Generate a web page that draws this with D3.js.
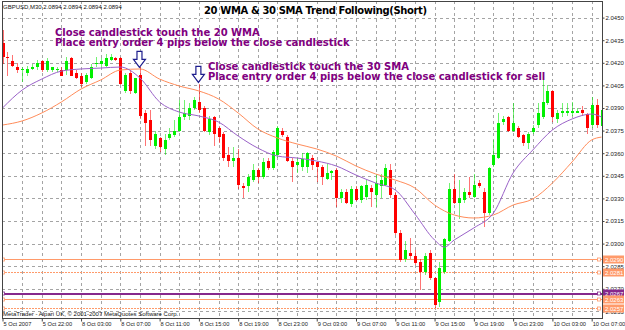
<!DOCTYPE html>
<html>
<head>
<meta charset="utf-8">
<script src="https://cdn.jsdelivr.net/npm/d3@7"></script>
<style>
    body { margin: 0; background: #fff; }
    text { font-family: Arial, "Liberation Sans", sans-serif; }
</style>
</head>
<body>
<div id="chart"></div>
<script>

// GBPUSD M30 candles (bar 0 = left edge)
var opens = [
    2.0433, 2.0424, 2.0421, 2.0417, 2.0415, 2.0413, 2.0416, 2.0417, 2.0421, 2.0415,
    2.0415, 2.0415, 2.0415, 2.0415, 2.0423, 2.0413, 2.0411, 2.0407, 2.0410, 2.0419,
    2.0419, 2.0418, 2.0422, 2.0423, 2.0423, 2.0401, 2.0413, 2.0400, 2.0412, 2.0387,
    2.0382, 2.0365, 2.0370, 2.0363, 2.0370, 2.0372, 2.0375, 2.0384, 2.0385, 2.0390,
    2.0394, 2.0390, 2.0374, 2.0384, 2.0377, 2.0373, 2.0359, 2.0355, 2.0357, 2.0338,
    2.0338, 2.0342, 2.0349, 2.0344, 2.0355, 2.0350, 2.0359, 2.0375, 2.0371, 2.0355,
    2.0352, 2.0351, 2.0351, 2.0357, 2.0354, 2.0351, 2.0343, 2.0347, 2.0349, 2.0330,
    2.0334, 2.0326, 2.0336, 2.0329, 2.0331, 2.0337, 2.0332, 2.0338, 2.0339, 2.0349,
    2.0332, 2.0307, 2.0290, 2.0294, 2.0292, 2.0288, 2.0281, 2.0294, 2.0277, 2.0261,
    2.0281, 2.0302, 2.0336, 2.0327, 2.0329, 2.0334, 2.0331, 2.0340, 2.0334, 2.0320,
    2.0352, 2.0357, 2.0381, 2.0384, 2.0375, 2.0377, 2.0372, 2.0367, 2.0374, 2.0379,
    2.0384, 2.0393, 2.0401, 2.0383, 2.0387, 2.0387, 2.0387, 2.0387, 2.0389, 2.0386,
    2.0379, 2.0392, 2.0378
];
var highs = [
    2.0442, 2.0427, 2.0425, 2.0420, 2.0417, 2.0418, 2.0419, 2.0422, 2.0422, 2.0423,
    2.0417, 2.0417, 2.0417, 2.0424, 2.0424, 2.0415, 2.0413, 2.0413, 2.0419, 2.0424,
    2.0423, 2.0426, 2.0426, 2.0424, 2.0424, 2.0413, 2.0415, 2.0410, 2.0417, 2.0389,
    2.0389, 2.0375, 2.0371, 2.0373, 2.0377, 2.0382, 2.0395, 2.0395, 2.0393, 2.0397,
    2.0406, 2.0391, 2.0385, 2.0385, 2.0378, 2.0374, 2.0364, 2.0364, 2.0363, 2.0340,
    2.0346, 2.0353, 2.0350, 2.0357, 2.0357, 2.0362, 2.0378, 2.0377, 2.0372, 2.0357,
    2.0357, 2.0360, 2.0361, 2.0359, 2.0355, 2.0352, 2.0353, 2.0349, 2.0350, 2.0336,
    2.0336, 2.0338, 2.0338, 2.0339, 2.0342, 2.0339, 2.0346, 2.0346, 2.0353, 2.0353,
    2.0334, 2.0309, 2.0302, 2.0304, 2.0296, 2.0290, 2.0294, 2.0296, 2.0278, 2.0288,
    2.0304, 2.0340, 2.0346, 2.0342, 2.0337, 2.0344, 2.0346, 2.0342, 2.0337, 2.0351,
    2.0369, 2.0387, 2.0385, 2.0385, 2.0393, 2.0378, 2.0373, 2.0374, 2.0379, 2.0393,
    2.0411, 2.0405, 2.0402, 2.0389, 2.0393, 2.0393, 2.0394, 2.0390, 2.0391, 2.0387,
    2.0397, 2.0396, 2.0397
];
var lows = [
    2.0419, 2.0411, 2.0417, 2.0413, 2.0407, 2.0411, 2.0415, 2.0415, 2.0414, 2.0414,
    2.0414, 2.0414, 2.0411, 2.0412, 2.0411, 2.0409, 2.0404, 2.0406, 2.0409, 2.0417,
    2.0417, 2.0417, 2.0421, 2.0421, 2.0405, 2.0400, 2.0399, 2.0399, 2.0383, 2.0365,
    2.0365, 2.0363, 2.0361, 2.0359, 2.0369, 2.0371, 2.0374, 2.0382, 2.0382, 2.0389,
    2.0387, 2.0374, 2.0372, 2.0365, 2.0367, 2.0355, 2.0351, 2.0351, 2.0336, 2.0330,
    2.0334, 2.0341, 2.0340, 2.0343, 2.0349, 2.0349, 2.0357, 2.0371, 2.0354, 2.0341,
    2.0347, 2.0348, 2.0347, 2.0349, 2.0341, 2.0339, 2.0342, 2.0342, 2.0324, 2.0327,
    2.0326, 2.0324, 2.0328, 2.0327, 2.0329, 2.0324, 2.0324, 2.0330, 2.0338, 2.0330,
    2.0306, 2.0288, 2.0288, 2.0290, 2.0286, 2.0269, 2.0279, 2.0276, 2.0257, 2.0258,
    2.0280, 2.0301, 2.0326, 2.0316, 2.0327, 2.0330, 2.0330, 2.0337, 2.0311, 2.0319,
    2.0351, 2.0356, 2.0379, 2.0374, 2.0374, 2.0370, 2.0365, 2.0363, 2.0373, 2.0377,
    2.0383, 2.0392, 2.0381, 2.0380, 2.0384, 2.0385, 2.0385, 2.0387, 2.0385, 2.0373,
    2.0377, 2.0377, 2.0377
];
var closes = [
    2.0424, 2.0423, 2.0418, 2.0415, 2.0416, 2.0416, 2.0417, 2.0420, 2.0415, 2.0421,
    2.0417, 2.0416, 2.0411, 2.0421, 2.0411, 2.0410, 2.0406, 2.0412, 2.0417, 2.0420,
    2.0421, 2.0423, 2.0424, 2.0422, 2.0406, 2.0412, 2.0401, 2.0410, 2.0385, 2.0380,
    2.0369, 2.0373, 2.0364, 2.0369, 2.0373, 2.0375, 2.0384, 2.0387, 2.0390, 2.0395,
    2.0389, 2.0375, 2.0383, 2.0373, 2.0371, 2.0357, 2.0355, 2.0357, 2.0339, 2.0337,
    2.0344, 2.0349, 2.0344, 2.0354, 2.0350, 2.0361, 2.0377, 2.0372, 2.0355, 2.0351,
    2.0354, 2.0356, 2.0360, 2.0352, 2.0351, 2.0344, 2.0347, 2.0348, 2.0330, 2.0334,
    2.0327, 2.0336, 2.0329, 2.0338, 2.0339, 2.0334, 2.0340, 2.0342, 2.0350, 2.0332,
    2.0307, 2.0289, 2.0296, 2.0292, 2.0287, 2.0281, 2.0292, 2.0277, 2.0259, 2.0284,
    2.0303, 2.0336, 2.0327, 2.0330, 2.0334, 2.0332, 2.0339, 2.0338, 2.0320, 2.0350,
    2.0359, 2.0380, 2.0383, 2.0375, 2.0380, 2.0371, 2.0367, 2.0373, 2.0377, 2.0387,
    2.0394, 2.0401, 2.0384, 2.0387, 2.0388, 2.0388, 2.0388, 2.0388, 2.0387, 2.0377,
    2.0392, 2.0379, 2.0389
];

// 20 WMA and 30 SMA, read at a few bars
var wmaBars = [0, 4, 8, 12, 16, 20, 24, 28, 32, 36, 40, 44, 48, 52, 56, 60, 64, 68, 72, 76, 80, 84, 88,
    90, 92, 96, 100, 104, 108, 112, 116, 120, 122];
var wmaValues = [2.03900, 2.04019, 2.04092, 2.04145, 2.04159, 2.04165, 2.04172, 2.04099, 2.03940,
    2.03873, 2.03847, 2.03807, 2.03714, 2.03634, 2.03581, 2.03568, 2.03548, 2.03515, 2.03455,
    2.03402, 2.03356, 2.03196, 2.03024, 2.02977, 2.03024, 2.03104, 2.03203, 2.03469, 2.03621,
    2.03754, 2.03827, 2.03860, 2.03840];
var smaBars = [0, 4, 8, 12, 16, 20, 24, 28, 32, 36, 40, 44, 48, 52, 56, 60, 64, 68, 72, 76, 80, 84, 88,
    92, 96, 100, 104, 108, 112, 116, 120, 122];
var smaValues = [2.03787, 2.03814, 2.03867, 2.03940, 2.04026, 2.04086, 2.04152, 2.04159, 2.04092,
    2.04046, 2.04013, 2.03960, 2.03867, 2.03761, 2.03701, 2.03661, 2.03628, 2.03581, 2.03515,
    2.03462, 2.03422, 2.03369, 2.03256, 2.03190, 2.03170, 2.03190, 2.03256, 2.03296, 2.03402,
    2.03542, 2.03688, 2.03707];

// horizontal price levels
var levelPrices = [2.0290, 2.0281, 2.0267, 2.0263, 2.0257];

// axis ticks
var priceTicks = [2.0450, 2.0435, 2.0420, 2.0405, 2.0390, 2.0375, 2.0360, 2.0345, 2.0330,
    2.0315, 2.0300, 2.0285, 2.0270, 2.0255];
var timeLabels = ["5 Oct 2007", "5 Oct 22:00", "8 Oct 03:00", "8 Oct 07:00", "8 Oct 11:00",
    "8 Oct 15:00", "8 Oct 19:00", "8 Oct 23:00", "9 Oct 03:00", "9 Oct 07:00", "9 Oct 11:00",
    "9 Oct 15:00", "9 Oct 19:00", "9 Oct 23:00", "10 Oct 03:00", "10 Oct 07:00"];
var timeLabelBars = [0, 8, 16, 24, 32, 40, 48, 56, 64, 72, 80, 88, 96, 104, 112, 120];

// arrows: bar and price of arrow tip
var arrowBars = [28, 40];
var arrowPrices = [2.0417, 2.0407];

var width = 625, height = 330;
var plot = {left: 2, right: 602, top: 1, bottom: 318};

var x = d3.scaleLinear().domain([0, 122]).range([2.5, 601.5]);
var y = d3.scaleLinear().domain([2.0255, 2.0450]).range([311.4, 17.6]);

var svg = d3.select("#chart").append("svg")
    .attr("width", width)
    .attr("height", height);

svg.append("rect")
    .attr("width", width)
    .attr("height", height)
    .attr("fill", "#fff");

svg.append("clipPath")
    .attr("id", "plot-clip")
    .append("rect")
    .attr("x", plot.left)
    .attr("y", plot.top)
    .attr("width", plot.right - plot.left)
    .attr("height", plot.bottom - plot.top);

// grid
var grid = svg.append("g")
    .attr("stroke", "#a4a4a4")
    .attr("stroke-width", 1)
    .attr("stroke-dasharray", "3,3")
    .attr("shape-rendering", "crispEdges");

grid.selectAll(".hgrid")
    .data(priceTicks)
    .enter()
    .append("line")
    .attr("x1", plot.left)
    .attr("x2", plot.right)
    .attr("y1", function(d) { return Math.round(y(d)) + 0.5; })
    .attr("y2", function(d) { return Math.round(y(d)) + 0.5; });

grid.selectAll(".vgrid")
    .data(d3.range(4, 121, 4))
    .enter()
    .append("line")
    .attr("x1", function(d) { return Math.round(x(d)) + 0.5; })
    .attr("x2", function(d) { return Math.round(x(d)) + 0.5; })
    .attr("y1", plot.top)
    .attr("y2", plot.bottom);

var plotG = svg.append("g").attr("clip-path", "url(#plot-clip)");

// price levels
var levelStyle = [
    {color: "#ff9a6a", dash: null, w: 1},
    {color: "#ff9a6a", dash: "2,1", w: 1},
    {color: "#86288c", dash: null, w: 2},
    {color: "#ff9a6a", dash: null, w: 1},
    {color: "#ff9a6a", dash: "2,1", w: 1}
];

plotG.selectAll(".level")
    .data(levelPrices)
    .enter()
    .append("line")
    .attr("class", "level")
    .attr("x1", plot.left)
    .attr("x2", plot.right)
    .attr("y1", function(d) { return Math.round(y(d)) + 0.5; })
    .attr("y2", function(d) { return Math.round(y(d)) + 0.5; })
    .attr("stroke", function(d, i) { return levelStyle[i].color; })
    .attr("stroke-width", function(d, i) { return levelStyle[i].w; })
    .attr("stroke-dasharray", function(d, i) { return levelStyle[i].dash; })
    .attr("shape-rendering", "crispEdges");

// little end markers on the levels
[3, 599].forEach(function(mx) {
    plotG.selectAll(".marker" + mx)
        .data(levelPrices)
        .enter()
        .append("rect")
        .attr("x", mx - 1.5)
        .attr("y", function(d) { return Math.round(y(d)) - 1; })
        .attr("width", 3)
        .attr("height", 3)
        .attr("fill", "#fff")
        .attr("stroke", function(d, i) { return levelStyle[i].color; })
        .attr("stroke-width", 0.8);
});

// candles
var bars = opens.map(function(o, i) {
    return {i: i, o: o, h: highs[i], l: lows[i], c: closes[i]};
});

var candle = plotG.selectAll(".candle")
    .data(bars)
    .enter()
    .append("g")
    .attr("class", "candle")
    .attr("shape-rendering", "crispEdges");

candle.append("line")
    .attr("x1", function(d) { return Math.round(x(d.i)) + 0.5; })
    .attr("x2", function(d) { return Math.round(x(d.i)) + 0.5; })
    .attr("y1", function(d) { return y(d.h); })
    .attr("y2", function(d) { return y(d.l); })
    .attr("stroke", function(d) { return d.c >= d.o ? "#00e800" : "#ff0000"; })
    .attr("stroke-opacity", 0.55);

candle.append("rect")
    .attr("x", function(d) { return Math.round(x(d.i)) - 1; })
    .attr("width", 3)
    .attr("y", function(d) { return y(Math.max(d.o, d.c)); })
    .attr("height", function(d) { return Math.max(1, Math.abs(y(d.o) - y(d.c))); })
    .attr("fill", function(d) { return d.c >= d.o ? "#00f000" : "#ff0000"; });

// moving averages
var maLine = d3.line()
    .x(function(d) { return x(d[0]); })
    .y(function(d) { return y(d[1]); })
    .curve(d3.curveMonotoneX);

plotG.append("path")
    .datum(d3.zip(smaBars, smaValues))
    .attr("d", maLine)
    .attr("fill", "none")
    .attr("stroke", "#ff8c5a")
    .attr("stroke-width", 1);

plotG.append("path")
    .datum(d3.zip(wmaBars, wmaValues))
    .attr("d", maLine)
    .attr("fill", "none")
    .attr("stroke", "#9a62c8")
    .attr("stroke-width", 1);

// hollow down arrows
function arrowPath(cx, tip) {
    return "M" + cx + "," + tip +
        "L" + (cx - 6) + "," + (tip - 8) +
        "L" + (cx - 2.5) + "," + (tip - 8) +
        "L" + (cx - 2.5) + "," + (tip - 16) +
        "L" + (cx + 2.5) + "," + (tip - 16) +
        "L" + (cx + 2.5) + "," + (tip - 8) +
        "L" + (cx + 6) + "," + (tip - 8) + "Z";
}

svg.selectAll(".arrow")
    .data(arrowBars)
    .enter()
    .append("path")
    .attr("class", "arrow")
    .attr("d", function(d, i) { return arrowPath(x(d) - 0.5, y(arrowPrices[i])); })
    .attr("fill", "#fff")
    .attr("stroke", "#1c1c8c")
    .attr("stroke-width", 1.2)
    .attr("stroke-linejoin", "miter");

// frame
svg.append("rect")
    .attr("x", plot.left + 0.5)
    .attr("y", plot.top + 0.5)
    .attr("width", plot.right - plot.left)
    .attr("height", plot.bottom - plot.top)
    .attr("fill", "none")
    .attr("stroke", "#444")
    .attr("shape-rendering", "crispEdges");

// price axis
var yAxis = svg.append("g")
    .attr("transform", "translate(" + (plot.right + 0.5) + ",0)")
    .call(d3.axisRight(y)
        .tickValues(priceTicks)
        .tickFormat(d3.format(".4f"))
        .tickSize(2)
        .tickPadding(1));
yAxis.select(".domain").remove();
yAxis.selectAll("line").attr("stroke", "#444");
yAxis.selectAll("text")
    .attr("fill", "#222")
    .style("font-size", "6px");

// time axis
var xAxis = svg.append("g")
    .attr("transform", "translate(0," + (plot.bottom + 0.5) + ")")
    .call(d3.axisBottom(x)
        .tickValues(timeLabelBars)
        .tickFormat(function(d, i) { return timeLabels[i]; })
        .tickSize(3));
xAxis.select(".domain").remove();
xAxis.selectAll("line").attr("stroke", "#444");
xAxis.selectAll("text")
    .attr("x", 0.5)
    .attr("y", 3)
    .attr("dy", "0.8em")
    .attr("fill", "#222")
    .style("text-anchor", "start")
    .style("font-size", "5.7px");

// level value boxes on the price axis
var boxes = svg.selectAll(".levelbox")
    .data(levelPrices)
    .enter()
    .append("g")
    .attr("class", "levelbox")
    .attr("transform", function(d) { return "translate(603," + (Math.round(y(d)) + 0.5) + ")"; });

boxes.append("rect")
    .attr("x", 0)
    .attr("y", -4)
    .attr("width", 21)
    .attr("height", 8)
    .attr("fill", function(d, i) { return levelStyle[i].color; });

boxes.append("text")
    .attr("x", 2)
    .attr("y", 2.2)
    .attr("fill", "#fff")
    .style("font-size", "6px")
    .text(function(d) { return d.toFixed(4); });

// header and footer
svg.append("text")
    .attr("x", 3)
    .attr("y", 8.5)
    .style("font-size", "6px")
    .attr("fill", "#111")
    .text("GBPUSD,M30 2.0894 2.0894 2.0894 2.0894");

svg.append("text")
    .attr("x", 3)
    .attr("y", 316)
    .style("font-size", "6px")
    .attr("fill", "#111")
    .text("MetaTrader - Alpari UK, \u00a9 2001-2007 MetaQuotes Software Corp.");

// title
svg.append("text")
    .attr("x", 204)
    .attr("y", 13.5)
    .attr("textLength", 223)
    .attr("lengthAdjust", "spacing")
    .style("font-family", "'DejaVu Sans', Verdana, sans-serif")
    .style("font-size", "10px")
    .style("font-weight", "bold")
    .attr("fill", "#000")
    .text("20 WMA & 30 SMA Trend Following(Short)");

// annotations
var notes = [
    {x: 55, y: 36, t: "Close candlestick touch the 20 WMA"},
    {x: 55, y: 45.5, t: "Place entry order 4 pips below the close candlestick"},
    {x: 208, y: 69.5, t: "Close candlestick touch the 30 SMA"},
    {x: 208, y: 79.5, t: "Place entry order 4 pips below the close candlestick for sell"}
];

svg.selectAll(".note")
    .data(notes)
    .enter()
    .append("text")
    .attr("class", "note")
    .attr("x", function(d) { return d.x; })
    .attr("y", function(d) { return d.y; })
    .style("font-family", "'DejaVu Sans', Verdana, sans-serif")
    .style("font-size", "10px")
    .style("font-weight", "bold")
    .attr("fill", "#800080")
    .text(function(d) { return d.t; });

</script>
</body>
</html>
